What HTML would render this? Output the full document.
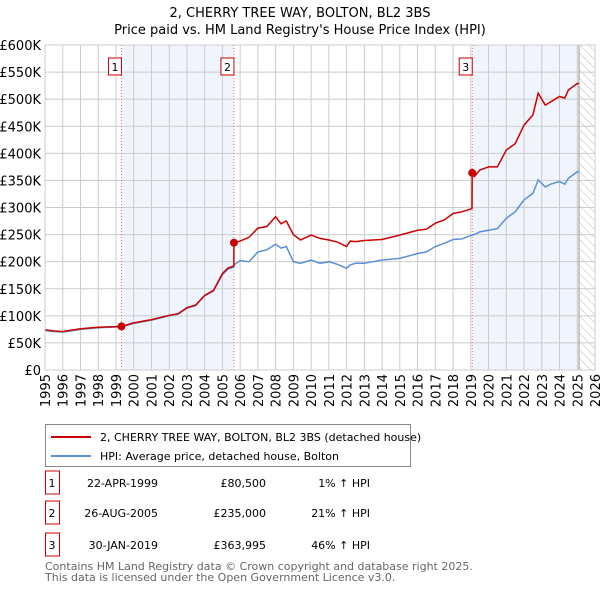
<!DOCTYPE html>
<html><head><meta charset="utf-8"><style>
body{margin:0;background:#fff;font-family:"Liberation Sans","DejaVu Sans",sans-serif;}
svg text{font-family:"DejaVu Sans","Liberation Sans",sans-serif;}
</style></head><body>
<svg id="c" width="600" height="590" xmlns="http://www.w3.org/2000/svg">
<defs><pattern id="hatch" width="6" height="6" patternUnits="userSpaceOnUse" patternTransform="rotate(-45)"><line x1="0" y1="0" x2="0" y2="6" stroke="#bbb" stroke-width="1"/></pattern></defs>
<text x="300" y="17" text-anchor="middle" font-size="13">2, CHERRY TREE WAY, BOLTON, BL2 3BS</text>
<text x="300" y="34" text-anchor="middle" font-size="13">Price paid vs. HM Land Registry's House Price Index (HPI)</text>
<g id="plot"></g>
<g>
<rect x="45.5" y="424.5" width="365" height="42" fill="#fff" stroke="#888"/>
<line x1="51" y1="437" x2="91" y2="437" stroke="#cc0000" stroke-width="2"/>
<text x="100" y="441" font-size="11">2, CHERRY TREE WAY, BOLTON, BL2 3BS (detached house)</text>
<line x1="51" y1="456" x2="91" y2="456" stroke="#5b8fd6" stroke-width="2"/>
<text x="100" y="460" font-size="11">HPI: Average price, detached house, Bolton</text>
</g>
<g id="table" font-size="11"></g>
<text x="45" y="570" font-size="11" fill="#666">Contains HM Land Registry data © Crown copyright and database right 2025.</text>
<text x="45" y="581" font-size="11" fill="#666">This data is licensed under the Open Government Licence v3.0.</text>
</svg>
<script>
const years=[1995,1995.5,1996,1997,1998,1999.31,2000,2001,2002,2002.5,2003,2003.5,2004,2004.5,2005,2005.3,2005.64,2005.65,2006,2006.5,2007,2007.5,2008,2008.3,2008.6,2009,2009.4,2010,2010.5,2011,2011.5,2012,2012.2,2012.5,2013,2014,2015,2016,2016.5,2017,2017.5,2018,2018.5,2019.07,2019.08,2019.2,2019.5,2020,2020.5,2021,2021.5,2022,2022.5,2022.8,2023.2,2023.5,2024,2024.3,2024.5,2025,2025.1];
const priceSeries=[74000,72000,71000,76000,79000,80500,87000,93000,101000,104000,115000,120000,138000,147000,178000,188000,192000,235000,238000,245000,262000,265000,283000,270000,275000,250000,240000,249000,243000,240000,236000,228000,238000,237000,239000,241000,249000,258000,260000,271000,277000,289000,292000,298000,363995,357000,369000,375000,375000,406000,418000,452000,471000,511000,489000,495000,505000,502000,517000,529000,529000];
const hpiSeries=[73000,71000,70000,75000,78000,79700,86000,92000,100000,103000,114000,119000,137000,146000,176000,186000,190000,194000,202000,200000,218000,222000,232000,225000,228000,200000,197000,203000,197000,200000,195000,188000,194000,197000,197000,203000,206000,215000,218000,228000,234000,241000,242000,249000,249000,250000,255000,258000,261000,280000,292000,314000,326000,351000,338000,343000,348000,343000,354000,366000,366000];
const yTicks=[0,50000,100000,150000,200000,250000,300000,350000,400000,450000,500000,550000,600000];
const yTickLabels=["£0","£50K","£100K","£150K","£200K","£250K","£300K","£350K","£400K","£450K","£500K","£550K","£600K"];
const xTicks=[1995,1996,1997,1998,1999,2000,2001,2002,2003,2004,2005,2006,2007,2008,2009,2010,2011,2012,2013,2014,2015,2016,2017,2018,2019,2020,2021,2022,2023,2024,2025,2026];
const saleIds=["1","2","3"];
const saleYears=[1999.31,2005.65,2019.08];
const salePrices=[80500,235000,363995];
const saleDates=["22-APR-1999","26-AUG-2005","30-JAN-2019"];
const salePriceLabels=["£80,500","£235,000","£363,995"];
const saleHpiLabels=["1% ↑ HPI","21% ↑ HPI","46% ↑ HPI"];
const shadeRanges=[[1999.31,2005.65],[2019.08,2025.1]];
const dataEnd=2025.1;

const L=45,R=595,T=45,B=370,X0=1995,X1=2026,YMAX=600000;
const xs=v=>L+(v-X0)/(X1-X0)*(R-L);
const ys=v=>B-v/YMAX*(B-T);
const NS="http://www.w3.org/2000/svg";
const plot=document.getElementById('plot');
function mk(tag,attrs,parent){const e=document.createElementNS(NS,tag);for(const k in attrs)e.setAttribute(k,attrs[k]);(parent||plot).appendChild(e);return e;}

let bg=mk('rect',{x:L,y:T,width:R-L,height:B-T,fill:'#fff'});


shadeRanges.forEach((r,i)=>{
  const s=mk('rect',{x:xs(r[0]),y:T,width:xs(r[1])-xs(r[0]),height:B-T,fill:'#f0f4fd'});
  
  
});
let h=mk('rect',{x:xs(dataEnd),y:T,width:R-xs(dataEnd),height:B-T,fill:'url(#hatch)'});


yTicks.forEach((v,i)=>{
  const g=mk('line',{x1:L,x2:R,y1:ys(v),y2:ys(v),stroke:'#ccc','stroke-width':1});
  
  
  const t=mk('text',{x:L-4,y:ys(v)+5,'text-anchor':'end','font-size':13});
  t.textContent=yTickLabels[i];
  
  
});
xTicks.forEach(v=>{
  const g=mk('line',{x1:xs(v),x2:xs(v),y1:T,y2:B,stroke:'#ccc','stroke-width':1});
  
  
  const t=mk('text',{x:0,y:0,'text-anchor':'end','font-size':13,transform:`translate(${xs(v)+5},${B+4}) rotate(-90)`});
  t.textContent=v;
  
  
});
let el=mk('line',{x1:xs(dataEnd),x2:xs(dataEnd),y1:T,y2:B,stroke:'#999','stroke-width':1});


saleYears.forEach((y,i)=>{
  const l=mk('line',{x1:xs(y),x2:xs(y),y1:T,y2:B,stroke:'#ff6666','stroke-width':1,'stroke-dasharray':'1,2'});
  
  
});
const pts=a=>years.map((y,i)=>xs(y).toFixed(1)+','+ys(a[i]).toFixed(1)).join(' ');
let hp=mk('polyline',{points:pts(hpiSeries),fill:'none',stroke:'#5b8fd6','stroke-width':1.5});


let pp=mk('polyline',{points:pts(priceSeries),fill:'none',stroke:'#cc0000','stroke-width':1.5});


saleYears.forEach((y,i)=>{
  const c=mk('circle',{cx:xs(y),cy:ys(salePrices[i]),r:4,fill:'#cc0000'});
  
  
  const b=mk('rect',{x:xs(y)-13,y:58,width:13,height:17,fill:'#fff',stroke:'#cc0000'});
  
  
  const t=mk('text',{x:xs(y)-6.5,y:71,'text-anchor':'middle','font-size':11});
  t.textContent=saleIds[i];
  
  
});
let fr=mk('rect',{x:L,y:T,width:R-L,height:B-T,fill:'none',stroke:'#ccc'});



const tb=document.getElementById('table');
const rowY=[483,513,545];
saleIds.forEach((id,i)=>{
  const y=rowY[i];
  const b=mk('rect',{x:45.5,y:y-12,width:14,height:23,fill:'#fff',stroke:'#cc0000'},tb);
  
  
  const cells=[[52,'middle',id],[158,'end',saleDates[i]],[266,'end',salePriceLabels[i]],[370,'end',saleHpiLabels[i]]];
  cells.forEach((c,j)=>{
    const t=mk('text',{x:c[0],y:y+4,'text-anchor':c[1],'font-size':11},tb);
    t.textContent=c[2];
    
    
  });
});
</script>
</body></html>
